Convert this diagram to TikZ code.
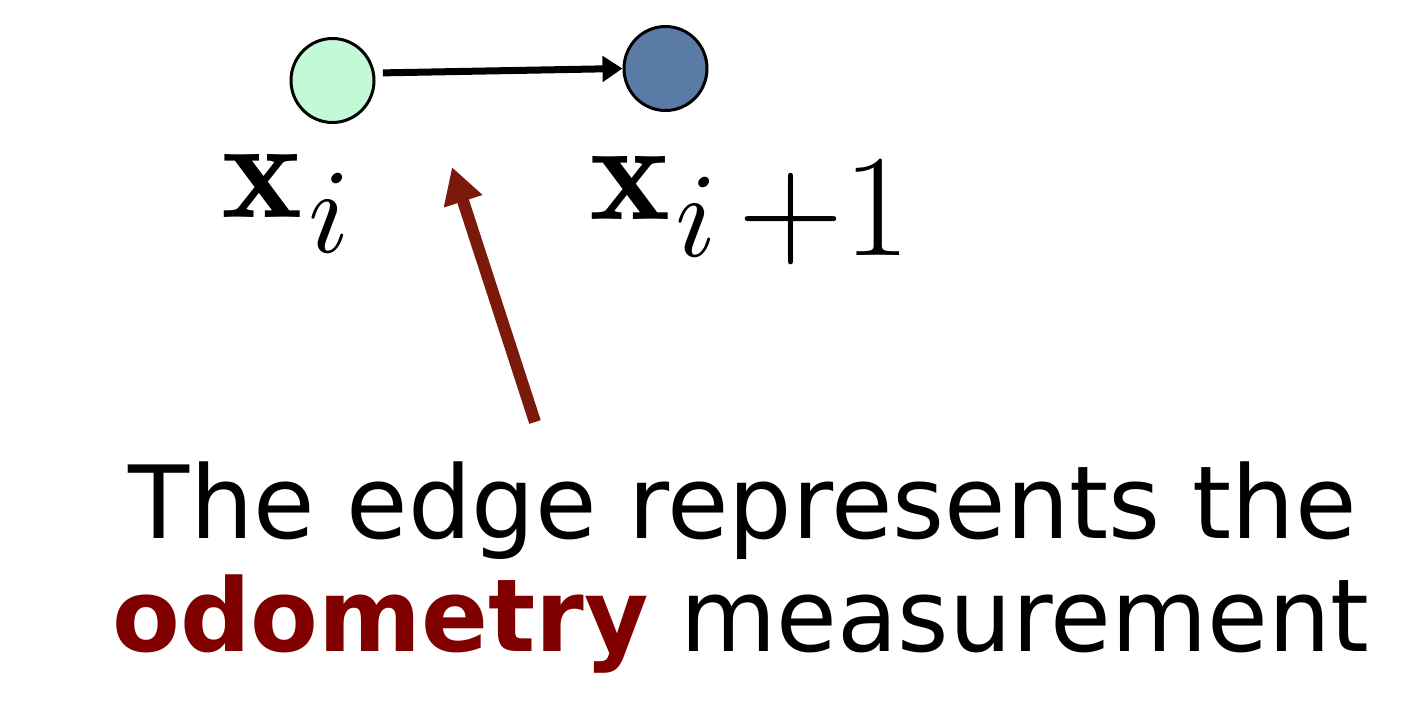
\documentclass[tikz,border=0pt]{standalone}
\usepackage{fontspec}
\newfontfamily\verd{DejaVu Sans}
\usetikzlibrary{shapes.geometric,arrows.meta}
\definecolor{lgreen}{HTML}{C3F9D6}
\definecolor{sblue}{HTML}{5A7BA6}
\definecolor{dred}{HTML}{7B1A0A}
\definecolor{odored}{HTML}{800000}
\newcommand{\bigx}{\scalebox{7.7}[7.1]{$\mathbf{x}$}}
\newcommand{\bigi}[1]{\raisebox{-#1}{\scalebox{6}{$i$}}}
\tikzset{
  state/.style={ellipse,draw=black,line width=1.5pt,minimum width=41.5pt,minimum height=42pt,inner sep=0pt},
  odoarrow/.style={line width=3.5pt,-{Triangle[length=10pt,width=12.5pt]}},
  pointer/.style={draw=dred,line width=6pt,-{Triangle[length=18pt,width=19pt]},color=dred},
  lbl/.style={inner sep=0pt},
  caption/.style={inner sep=0pt,font=\verd\fontsize{50.5}{60}\selectfont}
}
\begin{document}
\begin{tikzpicture}[x=0.5pt,y=-0.5pt]
\useasboundingbox (0,0) rectangle (1410,702);
\node[state,fill=lgreen] (a) at (332.5,80.5) {};
\node[state,fill=sblue] (b) at (665.5,68.5) {};
\draw[odoarrow,shorten <=4pt] (a.10) -- (b.west);
\node[lbl,anchor=base west] (la) at (221,217) {\bigx\hspace{3pt}\bigi{17.5pt}};
\node[lbl,anchor=base west] (lb) at (589,219) {\bigx\hspace{2.5pt}\bigi{18.5pt}\hspace{10.5pt}\raisebox{-18pt}{\fontsize{73}{73}\selectfont +1}};
\coordinate (ps) at (535,422);
\coordinate (pe) at (452,167);
\draw[pointer] (ps) -- (pe);
\node[caption,anchor=base] (t1) at (743,538) {\scalebox{0.99}[1]{The edge represents the}};
\node[caption,anchor=base] (t2) at (741,651) {\scalebox{0.978}[1]{{\bfseries\color{odored}odometry} measurement}};
\end{tikzpicture}
\end{document}
